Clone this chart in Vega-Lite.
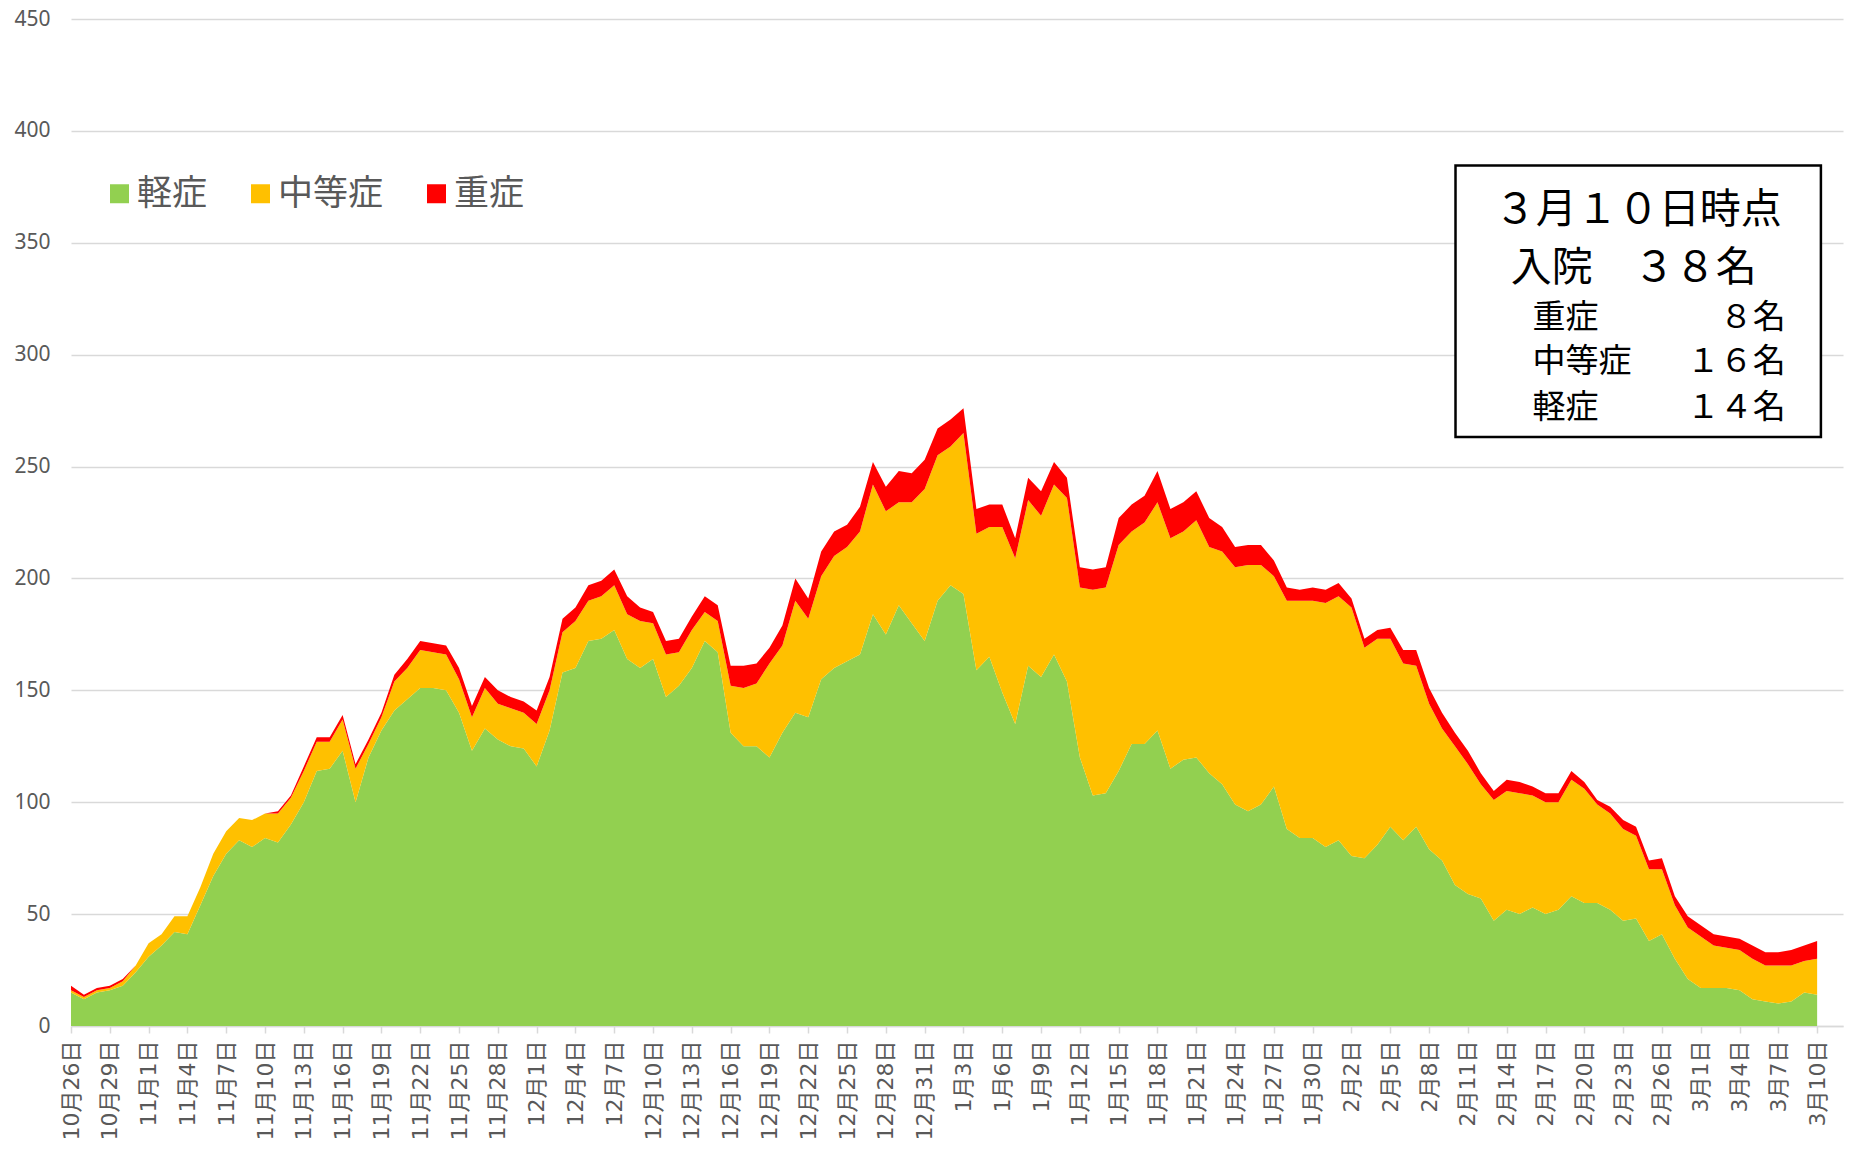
{
"$schema":"https://vega.github.io/schema/vega-lite/v6.json",
"width":1772,"height":1007,
"autosize":{"type":"none"},
"padding":{"left":71,"top":19,"right":15,"bottom":130},
"background":"white",
"config":{"view":{"stroke":null},"font":"Noto Sans CJK JP"},
"layer":[
{"data":{"values":[
{"d":"2020-10-26","s":"軽症","v":15},{"d":"2020-10-26","s":"中等症","v":1},{"d":"2020-10-26","s":"重症","v":2},
{"d":"2020-10-27","s":"軽症","v":12},{"d":"2020-10-27","s":"中等症","v":1},{"d":"2020-10-27","s":"重症","v":1},
{"d":"2020-10-28","s":"軽症","v":15},{"d":"2020-10-28","s":"中等症","v":1},{"d":"2020-10-28","s":"重症","v":1},
{"d":"2020-10-29","s":"軽症","v":16},{"d":"2020-10-29","s":"中等症","v":1},{"d":"2020-10-29","s":"重症","v":1},
{"d":"2020-10-30","s":"軽症","v":18},{"d":"2020-10-30","s":"中等症","v":2},{"d":"2020-10-30","s":"重症","v":1},
{"d":"2020-10-31","s":"軽症","v":24},{"d":"2020-10-31","s":"中等症","v":3},{"d":"2020-10-31","s":"重症","v":0},
{"d":"2020-11-01","s":"軽症","v":31},{"d":"2020-11-01","s":"中等症","v":6},{"d":"2020-11-01","s":"重症","v":0},
{"d":"2020-11-02","s":"軽症","v":36},{"d":"2020-11-02","s":"中等症","v":5},{"d":"2020-11-02","s":"重症","v":0},
{"d":"2020-11-03","s":"軽症","v":42},{"d":"2020-11-03","s":"中等症","v":7},{"d":"2020-11-03","s":"重症","v":0},
{"d":"2020-11-04","s":"軽症","v":41},{"d":"2020-11-04","s":"中等症","v":8},{"d":"2020-11-04","s":"重症","v":0},
{"d":"2020-11-05","s":"軽症","v":54},{"d":"2020-11-05","s":"中等症","v":8},{"d":"2020-11-05","s":"重症","v":0},
{"d":"2020-11-06","s":"軽症","v":67},{"d":"2020-11-06","s":"中等症","v":10},{"d":"2020-11-06","s":"重症","v":0},
{"d":"2020-11-07","s":"軽症","v":77},{"d":"2020-11-07","s":"中等症","v":10},{"d":"2020-11-07","s":"重症","v":0},
{"d":"2020-11-08","s":"軽症","v":83},{"d":"2020-11-08","s":"中等症","v":10},{"d":"2020-11-08","s":"重症","v":0},
{"d":"2020-11-09","s":"軽症","v":80},{"d":"2020-11-09","s":"中等症","v":12},{"d":"2020-11-09","s":"重症","v":0},
{"d":"2020-11-10","s":"軽症","v":84},{"d":"2020-11-10","s":"中等症","v":11},{"d":"2020-11-10","s":"重症","v":0},
{"d":"2020-11-11","s":"軽症","v":82},{"d":"2020-11-11","s":"中等症","v":13},{"d":"2020-11-11","s":"重症","v":1},
{"d":"2020-11-12","s":"軽症","v":90},{"d":"2020-11-12","s":"中等症","v":12},{"d":"2020-11-12","s":"重症","v":1},
{"d":"2020-11-13","s":"軽症","v":100},{"d":"2020-11-13","s":"中等症","v":14},{"d":"2020-11-13","s":"重症","v":2},
{"d":"2020-11-14","s":"軽症","v":114},{"d":"2020-11-14","s":"中等症","v":13},{"d":"2020-11-14","s":"重症","v":2},
{"d":"2020-11-15","s":"軽症","v":115},{"d":"2020-11-15","s":"中等症","v":12},{"d":"2020-11-15","s":"重症","v":2},
{"d":"2020-11-16","s":"軽症","v":123},{"d":"2020-11-16","s":"中等症","v":14},{"d":"2020-11-16","s":"重症","v":2},
{"d":"2020-11-17","s":"軽症","v":100},{"d":"2020-11-17","s":"中等症","v":15},{"d":"2020-11-17","s":"重症","v":2},
{"d":"2020-11-18","s":"軽症","v":120},{"d":"2020-11-18","s":"中等症","v":6},{"d":"2020-11-18","s":"重症","v":2},
{"d":"2020-11-19","s":"軽症","v":132},{"d":"2020-11-19","s":"中等症","v":6},{"d":"2020-11-19","s":"重症","v":2},
{"d":"2020-11-20","s":"軽症","v":141},{"d":"2020-11-20","s":"中等症","v":13},{"d":"2020-11-20","s":"重症","v":3},
{"d":"2020-11-21","s":"軽症","v":146},{"d":"2020-11-21","s":"中等症","v":14},{"d":"2020-11-21","s":"重症","v":4},
{"d":"2020-11-22","s":"軽症","v":151},{"d":"2020-11-22","s":"中等症","v":17},{"d":"2020-11-22","s":"重症","v":4},
{"d":"2020-11-23","s":"軽症","v":151},{"d":"2020-11-23","s":"中等症","v":16},{"d":"2020-11-23","s":"重症","v":4},
{"d":"2020-11-24","s":"軽症","v":150},{"d":"2020-11-24","s":"中等症","v":16},{"d":"2020-11-24","s":"重症","v":4},
{"d":"2020-11-25","s":"軽症","v":140},{"d":"2020-11-25","s":"中等症","v":15},{"d":"2020-11-25","s":"重症","v":5},
{"d":"2020-11-26","s":"軽症","v":123},{"d":"2020-11-26","s":"中等症","v":15},{"d":"2020-11-26","s":"重症","v":5},
{"d":"2020-11-27","s":"軽症","v":133},{"d":"2020-11-27","s":"中等症","v":18},{"d":"2020-11-27","s":"重症","v":5},
{"d":"2020-11-28","s":"軽症","v":128},{"d":"2020-11-28","s":"中等症","v":16},{"d":"2020-11-28","s":"重症","v":6},
{"d":"2020-11-29","s":"軽症","v":125},{"d":"2020-11-29","s":"中等症","v":17},{"d":"2020-11-29","s":"重症","v":5},
{"d":"2020-11-30","s":"軽症","v":124},{"d":"2020-11-30","s":"中等症","v":16},{"d":"2020-11-30","s":"重症","v":5},
{"d":"2020-12-01","s":"軽症","v":116},{"d":"2020-12-01","s":"中等症","v":19},{"d":"2020-12-01","s":"重症","v":6},
{"d":"2020-12-02","s":"軽症","v":132},{"d":"2020-12-02","s":"中等症","v":18},{"d":"2020-12-02","s":"重症","v":6},
{"d":"2020-12-03","s":"軽症","v":158},{"d":"2020-12-03","s":"中等症","v":18},{"d":"2020-12-03","s":"重症","v":6},
{"d":"2020-12-04","s":"軽症","v":160},{"d":"2020-12-04","s":"中等症","v":21},{"d":"2020-12-04","s":"重症","v":6},
{"d":"2020-12-05","s":"軽症","v":172},{"d":"2020-12-05","s":"中等症","v":18},{"d":"2020-12-05","s":"重症","v":7},
{"d":"2020-12-06","s":"軽症","v":173},{"d":"2020-12-06","s":"中等症","v":19},{"d":"2020-12-06","s":"重症","v":7},
{"d":"2020-12-07","s":"軽症","v":177},{"d":"2020-12-07","s":"中等症","v":20},{"d":"2020-12-07","s":"重症","v":7},
{"d":"2020-12-08","s":"軽症","v":164},{"d":"2020-12-08","s":"中等症","v":20},{"d":"2020-12-08","s":"重症","v":8},
{"d":"2020-12-09","s":"軽症","v":160},{"d":"2020-12-09","s":"中等症","v":21},{"d":"2020-12-09","s":"重症","v":6},
{"d":"2020-12-10","s":"軽症","v":164},{"d":"2020-12-10","s":"中等症","v":16},{"d":"2020-12-10","s":"重症","v":5},
{"d":"2020-12-11","s":"軽症","v":147},{"d":"2020-12-11","s":"中等症","v":19},{"d":"2020-12-11","s":"重症","v":6},
{"d":"2020-12-12","s":"軽症","v":152},{"d":"2020-12-12","s":"中等症","v":15},{"d":"2020-12-12","s":"重症","v":6},
{"d":"2020-12-13","s":"軽症","v":160},{"d":"2020-12-13","s":"中等症","v":17},{"d":"2020-12-13","s":"重症","v":6},
{"d":"2020-12-14","s":"軽症","v":172},{"d":"2020-12-14","s":"中等症","v":13},{"d":"2020-12-14","s":"重症","v":7},
{"d":"2020-12-15","s":"軽症","v":167},{"d":"2020-12-15","s":"中等症","v":14},{"d":"2020-12-15","s":"重症","v":7},
{"d":"2020-12-16","s":"軽症","v":131},{"d":"2020-12-16","s":"中等症","v":21},{"d":"2020-12-16","s":"重症","v":9},
{"d":"2020-12-17","s":"軽症","v":125},{"d":"2020-12-17","s":"中等症","v":26},{"d":"2020-12-17","s":"重症","v":10},
{"d":"2020-12-18","s":"軽症","v":125},{"d":"2020-12-18","s":"中等症","v":28},{"d":"2020-12-18","s":"重症","v":9},
{"d":"2020-12-19","s":"軽症","v":120},{"d":"2020-12-19","s":"中等症","v":42},{"d":"2020-12-19","s":"重症","v":7},
{"d":"2020-12-20","s":"軽症","v":131},{"d":"2020-12-20","s":"中等症","v":39},{"d":"2020-12-20","s":"重症","v":9},
{"d":"2020-12-21","s":"軽症","v":140},{"d":"2020-12-21","s":"中等症","v":50},{"d":"2020-12-21","s":"重症","v":10},
{"d":"2020-12-22","s":"軽症","v":138},{"d":"2020-12-22","s":"中等症","v":44},{"d":"2020-12-22","s":"重症","v":9},
{"d":"2020-12-23","s":"軽症","v":155},{"d":"2020-12-23","s":"中等症","v":46},{"d":"2020-12-23","s":"重症","v":11},
{"d":"2020-12-24","s":"軽症","v":160},{"d":"2020-12-24","s":"中等症","v":50},{"d":"2020-12-24","s":"重症","v":11},
{"d":"2020-12-25","s":"軽症","v":163},{"d":"2020-12-25","s":"中等症","v":51},{"d":"2020-12-25","s":"重症","v":10},
{"d":"2020-12-26","s":"軽症","v":166},{"d":"2020-12-26","s":"中等症","v":55},{"d":"2020-12-26","s":"重症","v":11},
{"d":"2020-12-27","s":"軽症","v":184},{"d":"2020-12-27","s":"中等症","v":58},{"d":"2020-12-27","s":"重症","v":10},
{"d":"2020-12-28","s":"軽症","v":175},{"d":"2020-12-28","s":"中等症","v":55},{"d":"2020-12-28","s":"重症","v":11},
{"d":"2020-12-29","s":"軽症","v":188},{"d":"2020-12-29","s":"中等症","v":46},{"d":"2020-12-29","s":"重症","v":14},
{"d":"2020-12-30","s":"軽症","v":180},{"d":"2020-12-30","s":"中等症","v":54},{"d":"2020-12-30","s":"重症","v":13},
{"d":"2020-12-31","s":"軽症","v":172},{"d":"2020-12-31","s":"中等症","v":68},{"d":"2020-12-31","s":"重症","v":13},
{"d":"2021-01-01","s":"軽症","v":190},{"d":"2021-01-01","s":"中等症","v":65},{"d":"2021-01-01","s":"重症","v":12},
{"d":"2021-01-02","s":"軽症","v":197},{"d":"2021-01-02","s":"中等症","v":62},{"d":"2021-01-02","s":"重症","v":12},
{"d":"2021-01-03","s":"軽症","v":193},{"d":"2021-01-03","s":"中等症","v":72},{"d":"2021-01-03","s":"重症","v":11},
{"d":"2021-01-04","s":"軽症","v":159},{"d":"2021-01-04","s":"中等症","v":61},{"d":"2021-01-04","s":"重症","v":11},
{"d":"2021-01-05","s":"軽症","v":165},{"d":"2021-01-05","s":"中等症","v":58},{"d":"2021-01-05","s":"重症","v":10},
{"d":"2021-01-06","s":"軽症","v":149},{"d":"2021-01-06","s":"中等症","v":74},{"d":"2021-01-06","s":"重症","v":10},
{"d":"2021-01-07","s":"軽症","v":135},{"d":"2021-01-07","s":"中等症","v":74},{"d":"2021-01-07","s":"重症","v":9},
{"d":"2021-01-08","s":"軽症","v":161},{"d":"2021-01-08","s":"中等症","v":74},{"d":"2021-01-08","s":"重症","v":10},
{"d":"2021-01-09","s":"軽症","v":156},{"d":"2021-01-09","s":"中等症","v":72},{"d":"2021-01-09","s":"重症","v":11},
{"d":"2021-01-10","s":"軽症","v":166},{"d":"2021-01-10","s":"中等症","v":76},{"d":"2021-01-10","s":"重症","v":10},
{"d":"2021-01-11","s":"軽症","v":154},{"d":"2021-01-11","s":"中等症","v":82},{"d":"2021-01-11","s":"重症","v":9},
{"d":"2021-01-12","s":"軽症","v":120},{"d":"2021-01-12","s":"中等症","v":76},{"d":"2021-01-12","s":"重症","v":9},
{"d":"2021-01-13","s":"軽症","v":103},{"d":"2021-01-13","s":"中等症","v":92},{"d":"2021-01-13","s":"重症","v":9},
{"d":"2021-01-14","s":"軽症","v":104},{"d":"2021-01-14","s":"中等症","v":92},{"d":"2021-01-14","s":"重症","v":9},
{"d":"2021-01-15","s":"軽症","v":114},{"d":"2021-01-15","s":"中等症","v":101},{"d":"2021-01-15","s":"重症","v":12},
{"d":"2021-01-16","s":"軽症","v":126},{"d":"2021-01-16","s":"中等症","v":95},{"d":"2021-01-16","s":"重症","v":12},
{"d":"2021-01-17","s":"軽症","v":126},{"d":"2021-01-17","s":"中等症","v":99},{"d":"2021-01-17","s":"重症","v":12},
{"d":"2021-01-18","s":"軽症","v":132},{"d":"2021-01-18","s":"中等症","v":102},{"d":"2021-01-18","s":"重症","v":14},
{"d":"2021-01-19","s":"軽症","v":115},{"d":"2021-01-19","s":"中等症","v":103},{"d":"2021-01-19","s":"重症","v":13},
{"d":"2021-01-20","s":"軽症","v":119},{"d":"2021-01-20","s":"中等症","v":102},{"d":"2021-01-20","s":"重症","v":13},
{"d":"2021-01-21","s":"軽症","v":120},{"d":"2021-01-21","s":"中等症","v":106},{"d":"2021-01-21","s":"重症","v":13},
{"d":"2021-01-22","s":"軽症","v":113},{"d":"2021-01-22","s":"中等症","v":101},{"d":"2021-01-22","s":"重症","v":13},
{"d":"2021-01-23","s":"軽症","v":108},{"d":"2021-01-23","s":"中等症","v":104},{"d":"2021-01-23","s":"重症","v":11},
{"d":"2021-01-24","s":"軽症","v":99},{"d":"2021-01-24","s":"中等症","v":106},{"d":"2021-01-24","s":"重症","v":9},
{"d":"2021-01-25","s":"軽症","v":96},{"d":"2021-01-25","s":"中等症","v":110},{"d":"2021-01-25","s":"重症","v":9},
{"d":"2021-01-26","s":"軽症","v":99},{"d":"2021-01-26","s":"中等症","v":107},{"d":"2021-01-26","s":"重症","v":9},
{"d":"2021-01-27","s":"軽症","v":107},{"d":"2021-01-27","s":"中等症","v":94},{"d":"2021-01-27","s":"重症","v":7},
{"d":"2021-01-28","s":"軽症","v":88},{"d":"2021-01-28","s":"中等症","v":102},{"d":"2021-01-28","s":"重症","v":6},
{"d":"2021-01-29","s":"軽症","v":84},{"d":"2021-01-29","s":"中等症","v":106},{"d":"2021-01-29","s":"重症","v":5},
{"d":"2021-01-30","s":"軽症","v":84},{"d":"2021-01-30","s":"中等症","v":106},{"d":"2021-01-30","s":"重症","v":6},
{"d":"2021-01-31","s":"軽症","v":80},{"d":"2021-01-31","s":"中等症","v":109},{"d":"2021-01-31","s":"重症","v":6},
{"d":"2021-02-01","s":"軽症","v":83},{"d":"2021-02-01","s":"中等症","v":109},{"d":"2021-02-01","s":"重症","v":6},
{"d":"2021-02-02","s":"軽症","v":76},{"d":"2021-02-02","s":"中等症","v":111},{"d":"2021-02-02","s":"重症","v":4},
{"d":"2021-02-03","s":"軽症","v":75},{"d":"2021-02-03","s":"中等症","v":94},{"d":"2021-02-03","s":"重症","v":4},
{"d":"2021-02-04","s":"軽症","v":81},{"d":"2021-02-04","s":"中等症","v":92},{"d":"2021-02-04","s":"重症","v":4},
{"d":"2021-02-05","s":"軽症","v":89},{"d":"2021-02-05","s":"中等症","v":84},{"d":"2021-02-05","s":"重症","v":5},
{"d":"2021-02-06","s":"軽症","v":83},{"d":"2021-02-06","s":"中等症","v":79},{"d":"2021-02-06","s":"重症","v":6},
{"d":"2021-02-07","s":"軽症","v":89},{"d":"2021-02-07","s":"中等症","v":72},{"d":"2021-02-07","s":"重症","v":7},
{"d":"2021-02-08","s":"軽症","v":79},{"d":"2021-02-08","s":"中等症","v":65},{"d":"2021-02-08","s":"重症","v":7},
{"d":"2021-02-09","s":"軽症","v":74},{"d":"2021-02-09","s":"中等症","v":59},{"d":"2021-02-09","s":"重症","v":7},
{"d":"2021-02-10","s":"軽症","v":63},{"d":"2021-02-10","s":"中等症","v":62},{"d":"2021-02-10","s":"重症","v":6},
{"d":"2021-02-11","s":"軽症","v":59},{"d":"2021-02-11","s":"中等症","v":58},{"d":"2021-02-11","s":"重症","v":6},
{"d":"2021-02-12","s":"軽症","v":57},{"d":"2021-02-12","s":"中等症","v":51},{"d":"2021-02-12","s":"重症","v":5},
{"d":"2021-02-13","s":"軽症","v":47},{"d":"2021-02-13","s":"中等症","v":54},{"d":"2021-02-13","s":"重症","v":4},
{"d":"2021-02-14","s":"軽症","v":52},{"d":"2021-02-14","s":"中等症","v":53},{"d":"2021-02-14","s":"重症","v":5},
{"d":"2021-02-15","s":"軽症","v":50},{"d":"2021-02-15","s":"中等症","v":54},{"d":"2021-02-15","s":"重症","v":5},
{"d":"2021-02-16","s":"軽症","v":53},{"d":"2021-02-16","s":"中等症","v":50},{"d":"2021-02-16","s":"重症","v":4},
{"d":"2021-02-17","s":"軽症","v":50},{"d":"2021-02-17","s":"中等症","v":50},{"d":"2021-02-17","s":"重症","v":4},
{"d":"2021-02-18","s":"軽症","v":52},{"d":"2021-02-18","s":"中等症","v":48},{"d":"2021-02-18","s":"重症","v":4},
{"d":"2021-02-19","s":"軽症","v":58},{"d":"2021-02-19","s":"中等症","v":52},{"d":"2021-02-19","s":"重症","v":4},
{"d":"2021-02-20","s":"軽症","v":55},{"d":"2021-02-20","s":"中等症","v":51},{"d":"2021-02-20","s":"重症","v":3},
{"d":"2021-02-21","s":"軽症","v":55},{"d":"2021-02-21","s":"中等症","v":44},{"d":"2021-02-21","s":"重症","v":2},
{"d":"2021-02-22","s":"軽症","v":52},{"d":"2021-02-22","s":"中等症","v":43},{"d":"2021-02-22","s":"重症","v":3},
{"d":"2021-02-23","s":"軽症","v":47},{"d":"2021-02-23","s":"中等症","v":41},{"d":"2021-02-23","s":"重症","v":4},
{"d":"2021-02-24","s":"軽症","v":48},{"d":"2021-02-24","s":"中等症","v":37},{"d":"2021-02-24","s":"重症","v":4},
{"d":"2021-02-25","s":"軽症","v":38},{"d":"2021-02-25","s":"中等症","v":32},{"d":"2021-02-25","s":"重症","v":4},
{"d":"2021-02-26","s":"軽症","v":41},{"d":"2021-02-26","s":"中等症","v":29},{"d":"2021-02-26","s":"重症","v":5},
{"d":"2021-02-27","s":"軽症","v":30},{"d":"2021-02-27","s":"中等症","v":24},{"d":"2021-02-27","s":"重症","v":4},
{"d":"2021-02-28","s":"軽症","v":21},{"d":"2021-02-28","s":"中等症","v":23},{"d":"2021-02-28","s":"重症","v":5},
{"d":"2021-03-01","s":"軽症","v":17},{"d":"2021-03-01","s":"中等症","v":23},{"d":"2021-03-01","s":"重症","v":5},
{"d":"2021-03-02","s":"軽症","v":17},{"d":"2021-03-02","s":"中等症","v":19},{"d":"2021-03-02","s":"重症","v":5},
{"d":"2021-03-03","s":"軽症","v":17},{"d":"2021-03-03","s":"中等症","v":18},{"d":"2021-03-03","s":"重症","v":5},
{"d":"2021-03-04","s":"軽症","v":16},{"d":"2021-03-04","s":"中等症","v":18},{"d":"2021-03-04","s":"重症","v":5},
{"d":"2021-03-05","s":"軽症","v":12},{"d":"2021-03-05","s":"中等症","v":18},{"d":"2021-03-05","s":"重症","v":6},
{"d":"2021-03-06","s":"軽症","v":11},{"d":"2021-03-06","s":"中等症","v":16},{"d":"2021-03-06","s":"重症","v":6},
{"d":"2021-03-07","s":"軽症","v":10},{"d":"2021-03-07","s":"中等症","v":17},{"d":"2021-03-07","s":"重症","v":6},
{"d":"2021-03-08","s":"軽症","v":11},{"d":"2021-03-08","s":"中等症","v":16},{"d":"2021-03-08","s":"重症","v":7},
{"d":"2021-03-09","s":"軽症","v":15},{"d":"2021-03-09","s":"中等症","v":14},{"d":"2021-03-09","s":"重症","v":7},
{"d":"2021-03-10","s":"軽症","v":14},{"d":"2021-03-10","s":"中等症","v":16},{"d":"2021-03-10","s":"重症","v":8}
]},
"transform":[{"lookup":"s","from":{"data":{"values":[{"s":"軽症","k":1},{"s":"中等症","k":2},{"s":"重症","k":3}]},"key":"s","fields":["k"]}}],
"mark":{"type":"area","interpolate":"linear"},
"encoding":{
"x":{"field":"d","type":"temporal","scale":{"type":"utc","domain":[1603670400000,1615507200000]},
"axis":{"title":null,"grid":false,"tickCount":60,"values":[1603670400000,1603929600000,1604188800000,1604448000000,1604707200000,1604966400000,1605225600000,1605484800000,1605744000000,1606003200000,1606262400000,1606521600000,1606780800000,1607040000000,1607299200000,1607558400000,1607817600000,1608076800000,1608336000000,1608595200000,1608854400000,1609113600000,1609372800000,1609632000000,1609891200000,1610150400000,1610409600000,1610668800000,1610928000000,1611187200000,1611446400000,1611705600000,1611964800000,1612224000000,1612483200000,1612742400000,1613001600000,1613260800000,1613520000000,1613779200000,1614038400000,1614297600000,1614556800000,1614816000000,1615075200000,1615334400000],
"labelExpr":"(utcmonth(datum.value)+1) + '月' + utcdate(datum.value) + '日'",
"labelAngle":-90,"labelFontSize":22,"labelColor":"#595959","labelFont":"DejaVu Sans, Noto Sans CJK JP","labelPadding":7,"labelOverlap":false,"labelBound":false,"labelFlush":false,
"tickColor":"#d9d9d9","tickSize":7,"tickWidth":1.5,"domainColor":"#d9d9d9","domainWidth":1.5}},
"y":{"field":"v","type":"quantitative","stack":"zero","scale":{"domain":[0,450],"nice":false},
"axis":{"title":null,"values":[0,50,100,150,200,250,300,350,400,450],"domain":false,"ticks":false,"gridColor":"#d9d9d9","gridWidth":1.5,"labelColor":"#595959","labelFontSize":21,"labelFont":"Noto Sans","labelPadding":21}},
"order":{"field":"k","type":"quantitative","sort":"ascending"},
"color":{"field":"s","type":"nominal","sort":["軽症","中等症","重症"],
"scale":{"domain":["軽症","中等症","重症"],"range":["#92D050","#FFC000","#FF0000"]},
"legend":{"orient":"none","legendX":31,"legendY":157,"direction":"horizontal","title":null,"symbolType":"square","symbolSize":361,"symbolStrokeWidth":0,"symbolOpacity":1,"labelFontSize":35,"labelColor":"#595959","labelFont":"Noto Sans CJK JP","labelOffset":0,"columnPadding":35}}
}},
{"data":{"values":[{}]},"mark":{"type":"rect","fill":"white","stroke":"black","strokeWidth":2.5},
"encoding":{"x":{"datum":1612918800000,"type":"temporal"},"x2":{"datum":1615359600000},"y":{"datum":384.5,"type":"quantitative"},"y2":{"datum":263.2}}},
{"data":{"values":[{}]},"mark":{"type":"text","text":"３月１０日時点","fontSize":41,"align":"center","baseline":"middle","color":"black","font":"Noto Sans CJK JP"},
"encoding":{"x":{"datum":1614140000000,"type":"temporal"},"y":{"datum":364.2,"type":"quantitative"}}},
{"data":{"values":[{}]},"mark":{"type":"text","text":"入院　３８名","fontSize":41,"align":"center","baseline":"middle","color":"black","font":"Noto Sans CJK JP"},
"encoding":{"x":{"datum":1614110000000,"type":"temporal"},"y":{"datum":338.3,"type":"quantitative"}}},
{"data":{"values":[{}]},"mark":{"type":"text","text":"重症","fontSize":33,"align":"left","baseline":"middle","color":"black","font":"Noto Sans CJK JP"},
"encoding":{"x":{"datum":1613433600000,"type":"temporal"},"y":{"datum":316.6,"type":"quantitative"}}},
{"data":{"values":[{}]},"mark":{"type":"text","text":"８名","fontSize":33,"align":"right","baseline":"middle","color":"black","font":"Noto Sans CJK JP"},
"encoding":{"x":{"datum":1615124520000,"type":"temporal"},"y":{"datum":316.6,"type":"quantitative"}}},
{"data":{"values":[{}]},"mark":{"type":"text","text":"中等症","fontSize":33,"align":"left","baseline":"middle","color":"black","font":"Noto Sans CJK JP"},
"encoding":{"x":{"datum":1613433600000,"type":"temporal"},"y":{"datum":296.5,"type":"quantitative"}}},
{"data":{"values":[{}]},"mark":{"type":"text","text":"１６名","fontSize":33,"align":"right","baseline":"middle","color":"black","font":"Noto Sans CJK JP"},
"encoding":{"x":{"datum":1615124520000,"type":"temporal"},"y":{"datum":296.5,"type":"quantitative"}}},
{"data":{"values":[{}]},"mark":{"type":"text","text":"軽症","fontSize":33,"align":"left","baseline":"middle","color":"black","font":"Noto Sans CJK JP"},
"encoding":{"x":{"datum":1613433600000,"type":"temporal"},"y":{"datum":276.3,"type":"quantitative"}}},
{"data":{"values":[{}]},"mark":{"type":"text","text":"１４名","fontSize":33,"align":"right","baseline":"middle","color":"black","font":"Noto Sans CJK JP"},
"encoding":{"x":{"datum":1615124520000,"type":"temporal"},"y":{"datum":276.3,"type":"quantitative"}}}
]
}
